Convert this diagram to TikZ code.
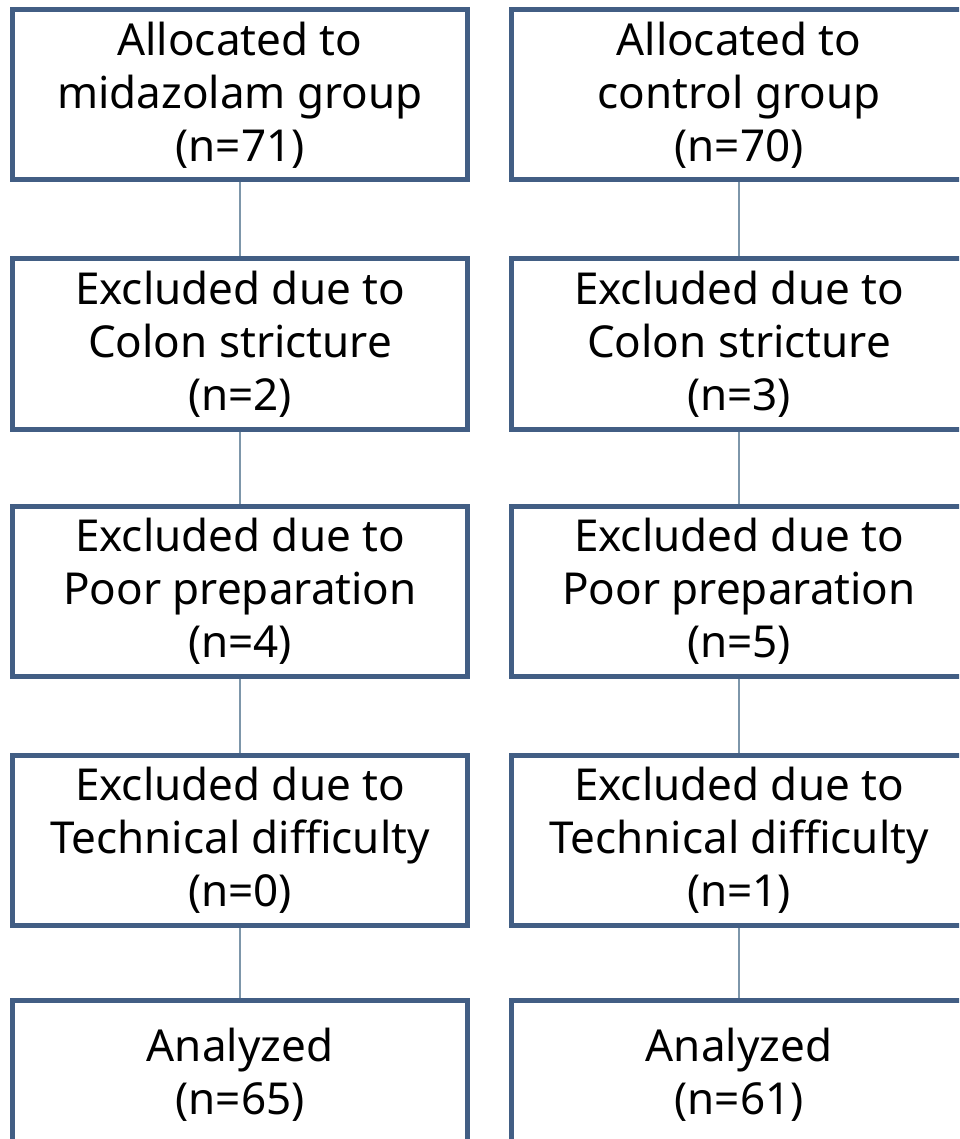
\documentclass[tikz,border=0pt]{standalone}
\usepackage{fontspec}
\setmainfont{Noto Sans}
\definecolor{boxblue}{RGB}{66,94,132}
\definecolor{connblue}{RGB}{125,150,170}
\begin{document}
\begin{tikzpicture}[x=1pt,y=-1pt,
  flowbox/.style={draw=boxblue, line width=5pt, fill=white, rectangle,
    minimum width=455pt, minimum height=170pt, inner sep=0pt,
    align=center, font=\fontsize{44}{53}\selectfont},
  lastbox/.style={flowbox, minimum height=149pt},
  conn/.style={draw=connblue, line width=2pt}]
\useasboundingbox (0,0) rectangle (959,1139);
\clip (0,0) rectangle (959,1139);
% left column
\node[flowbox] (L1) at (240,95) {Allocated to\\midazolam group\\(n=71)};
\node[flowbox] (L2) at (240,344) {Excluded due to\\Colon stricture\\(n=2)};
\node[flowbox] (L3) at (240,591) {Excluded due to\\Poor preparation\\(n=4)};
\node[flowbox] (L4) at (240,840) {Excluded due to\\Technical difficulty\\(n=0)};
\node[lastbox] (L5) at (240,1075) {Analyzed\\(n=65)};
% right column
\node[flowbox] (R1) at (739,95) {Allocated to\\control group\\(n=70)};
\node[flowbox] (R2) at (739,344) {Excluded due to\\Colon stricture\\(n=3)};
\node[flowbox] (R3) at (739,591) {Excluded due to\\Poor preparation\\(n=5)};
\node[flowbox] (R4) at (739,840) {Excluded due to\\Technical difficulty\\(n=1)};
\node[lastbox] (R5) at (739,1075) {Analyzed\\(n=61)};
% connectors
\draw[conn] (L1.south) -- (L2.north);
\draw[conn] (L2.south) -- (L3.north);
\draw[conn] (L3.south) -- (L4.north);
\draw[conn] (L4.south) -- (L5.north);
\draw[conn] (R1.south) -- (R2.north);
\draw[conn] (R2.south) -- (R3.north);
\draw[conn] (R3.south) -- (R4.north);
\draw[conn] (R4.south) -- (R5.north);
\end{tikzpicture}
\end{document}
